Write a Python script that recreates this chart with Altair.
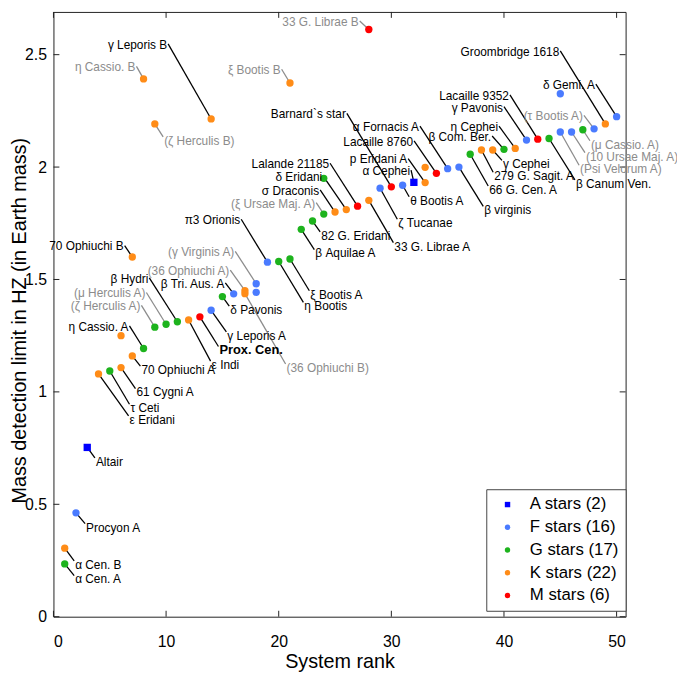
import altair as alt
import pandas as pd

# ---------------- data ----------------
ranks = [1, 1, 2, 3, 4, 5, 6, 6, 7, 7, 8, 8, 9, 9, 10, 11, 12, 13, 14, 14, 15, 16, 17, 17,
         18, 18, 19, 20, 21, 21, 22, 23, 24, 24, 25, 26, 27, 28, 28, 29, 30, 31, 32, 33, 33,
         34, 35, 36, 37, 38, 39, 40, 41, 42, 43, 44, 45, 45, 46, 47, 48, 49, 50]

masses = [0.235, 0.305, 0.462, 0.753, 1.080, 1.093, 1.108, 1.250, 1.160, 1.600, 1.193, 2.392,
          1.288, 2.192, 1.301, 1.312, 1.320, 1.334, 1.363, 2.214, 1.424, 1.436, 1.450, 1.437,
          1.481, 1.443, 1.577, 1.580, 1.591, 2.374, 1.723, 1.760, 1.791, 1.950, 1.800, 1.811,
          1.826, 1.852, 2.612, 1.906, 1.912, 1.919, 1.932, 1.931, 1.999, 1.972, 1.993, 2.000,
          2.057, 2.076, 2.076, 2.079, 2.083, 2.120, 2.124, 2.127, 2.156, 2.326, 2.156, 2.166,
          2.170, 2.192, 2.224]

types = ['G', 'K', 'F', 'A', 'K', 'G', 'K', 'K', 'K', 'K',
         'G', 'K', 'G', 'K', 'G', 'G', 'K', 'M', 'F', 'K',
         'G', 'F', 'K', 'K', 'F', 'F', 'F', 'G', 'G', 'K',
         'G', 'G', 'G', 'G', 'K', 'K', 'M', 'K', 'M', 'F',
         'M', 'F', 'A', 'K', 'K', 'M', 'F', 'F', 'G', 'K',
         'K', 'G', 'K', 'F', 'M', 'G', 'F', 'F', 'F', 'G',
         'F', 'K', 'F']

names = ["α Cen. A", "α Cen. B", "Procyon A", "Altair", "ε Eridani", "τ Ceti", "61 Cygni A", "",
         "70 Ophiuchi A", "70 Ophiuchi B", "η Cassio. A", "η Cassio. B", "(ζ Herculis A)",
         "(ζ Herculis B)", "(μ Herculis A)", "β Hydri", "ε Indi", "Prox. Cen.", "γ Leporis A",
         "γ Leporis B", "δ Pavonis", "β Tri. Aus. A", "(36 Ophiuchi A)", "(36 Ophiuchi B)",
         "(γ Virginis A)", "", "π3 Orionis", "η Bootis", "ξ Bootis A", "ξ Bootis B",
         "β Aquilae A", "82 G. Eridani", "(ξ Ursae Maj. A)", "", "σ Draconis", "δ Eridani",
         "Lalande 21185", "33 G. Librae A", "33 G. Librae B", "ζ Tucanae", "Barnard`s star",
         "θ Bootis A", "α Cephei", "p Eridani A", "", "Lacaille 8760", "α Fornacis A",
         "β virginis", "66 G. Cen. A", "279 G. Sagit. A", "γ Cephei", "β Com. Ber.", "η Cephei",
         "γ Pavonis", "Lacaille 9352", "β Canum Ven.", "(Psi Velorum A)", "",
         "(10 Ursae Maj. A)", "(μ Cassio. A)", "(τ Bootis A)", "Groombridge 1618", "δ Gemi. A"]

# label anchor (in rank / Earth-mass units) and which side the text sits on
label_x = [1.84, 1.84, 2.81, 3.68, 6.67, 6.75, 7.28, None, 7.72, 6.32, 6.75, 7.37, 7.81, 9.74,
           8.25, 8.51, 13.95, 14.65, 15.35, 10.18, 15.61, 15.26, 15.70, 20.61, 16.14, None,
           16.67, 22.19, 22.72, 20.26, 23.16, 23.68, 23.33, None, 23.68, 23.95, 24.56, 30.18,
           27.19, 30.53, 26.05, 31.58, 31.75, 31.49, None, 32.02, 32.54, 38.16, 38.60, 39.04,
           39.82, 38.95, 39.56, 40.00, 40.53, 46.30, 46.67, None, 47.19, 47.63, 47.10, 45.00,
           48.16]
label_y = [0.183, 0.248, 0.414, 0.706, 0.893, 0.945, 1.015, None, 1.115, 1.651, 1.294, 2.448,
           1.385, 2.134, 1.442, 1.507, 1.137, 1.202, 1.267, 2.548, 1.381, 1.485, 1.542, 1.124,
           1.625, None, 1.768, 1.398, 1.450, 2.435, 1.633, 1.712, 1.842, None, 1.899, 1.960,
           2.017, 1.664, 2.650, 1.768, 2.239, 1.868, 1.986, 2.038, None, 2.117, 2.182, 1.825,
           1.916, 1.977, 2.030, 2.138, 2.182, 2.269, 2.321, 1.943, 2.008, None, 2.064, 2.117,
           2.230, 2.517, 2.369]
label_align = ['left', 'left', 'left', 'left', 'left', 'left', 'left', '', 'left', 'right',
               'right', 'right', 'right', 'left', 'right', 'right', 'left', 'left', 'left', 'right',
               'left', 'right', 'right', 'left', 'right', '', 'right', 'left', 'left', 'right',
               'left', 'left', 'right', '', 'right', 'right', 'right', 'left', 'right', 'left',
               'right', 'left', 'right', 'right', '', 'right', 'right', 'left', 'left', 'left',
               'left', 'right', 'right', 'right', 'right', 'left', 'left', '', 'left', 'left',
               'right', 'right', 'right']

muted_labels = ["η Cassio. B", "ξ Bootis B", "33 G. Librae B"]
bold_labels = ["Prox. Cen."]

classes = ["A", "F", "G", "K", "M"]
class_colors = ["#0000ff", "#4a7bff", "#1db31d", "#ff8c17", "#ff0000"]
class_shapes = ["square", "circle", "circle", "circle", "circle"]

x_tick_values = [0, 10, 20, 30, 40, 50]
y_tick_values = [0, 0.5, 1, 1.5, 2, 2.5]

# ---------------- build table ----------------
counts = {c: types.count(c) for c in classes}
legend_names = [f"{c} stars ({counts[c]})" for c in classes]
cls_name = {c: n for c, n in zip(classes, legend_names)}

rows = []
for i in range(len(ranks)):
    nm = names[i]
    if nm.startswith("(") or nm in muted_labels:
        tone = "gray"
    elif nm in bold_labels:
        tone = "bold"
    else:
        tone = "black"
    rows.append(dict(rank=ranks[i], mass=masses[i], cls=cls_name[types[i]], name=nm,
                     lx=label_x[i], ly=label_y[i], side=label_align[i], tone=tone))
df = pd.DataFrame(rows)

FONT = "Liberation Sans"
W, H = 579, 612
FRAME = "#222222"
GRAY = "#8c8c8c"

x_scale = alt.Scale(domain=[0, 50.8], nice=False, zero=False)
y_scale = alt.Scale(domain=[0, 2.69], nice=False, zero=False)

x_axis = alt.Axis(values=x_tick_values, tickSize=0, domain=False, grid=False,
                  labelFontSize=16, labelPadding=17, labelFont=FONT, labelColor="black",
                  title="System rank", titleFont=FONT, titleFontSize=20,
                  titleFontWeight="normal", titleColor="black", titlePadding=2)
y_axis = alt.Axis(values=y_tick_values, format="~g", tickSize=0, domain=False, grid=False,
                  labelFontSize=16, labelPadding=7, labelFont=FONT, labelColor="black",
                  title="Mass detection limit in HZ (in Earth mass)", titleFont=FONT,
                  titleFontSize=20, titleFontWeight="normal", titleColor="black",
                  titleX=-34, titleY=312, titleBaseline="middle")

leg = alt.Legend(title=None, orient="none", legendX=438, legendY=483, fillColor="white",
                 strokeColor="#444444", padding=7, labelFontSize=17, labelFont=FONT,
                 labelColor="black", symbolSize=30, rowPadding=5, labelOffset=14,
                 symbolOffset=6, symbolStrokeWidth=0)

base = alt.Chart(df)
labelled = base.transform_filter("datum.name != ''")

X = lambda f: alt.X(f, scale=x_scale, axis=x_axis)
Y = lambda f: alt.Y(f, scale=y_scale, axis=y_axis)

layers = []

# inward ticks on all four sides
yt = alt.Chart(pd.DataFrame({"v": y_tick_values}))
xt = alt.Chart(pd.DataFrame({"v": x_tick_values}))
layers.append(yt.mark_rule(color=FRAME, strokeWidth=1).encode(
    y=Y("v:Q"), x=alt.value(0), x2=alt.value(6)))
layers.append(yt.mark_rule(color=FRAME, strokeWidth=1).encode(
    y=Y("v:Q"), x=alt.value(W), x2=alt.value(W - 6)))
layers.append(xt.mark_rule(color=FRAME, strokeWidth=1).encode(
    x=X("v:Q"), y=alt.value(H), y2=alt.value(H - 6)))
layers.append(xt.mark_rule(color=FRAME, strokeWidth=1).encode(
    x=X("v:Q"), y=alt.value(0), y2=alt.value(6)))

# leader lines
layers.append(labelled.transform_filter("datum.tone == 'gray'").mark_rule(
    color=GRAY, strokeWidth=1.3).encode(x=X("lx:Q"), y=Y("ly:Q"), x2="rank:Q", y2="mass:Q"))
layers.append(labelled.transform_filter("datum.tone != 'gray'").mark_rule(
    color="black", strokeWidth=1.3).encode(x=X("lx:Q"), y=Y("ly:Q"), x2="rank:Q", y2="mass:Q"))

# stars
layers.append(base.mark_point(filled=True, size=55, opacity=1).encode(
    x=X("rank:Q"), y=Y("mass:Q"),
    color=alt.Color("cls:N", scale=alt.Scale(domain=legend_names, range=class_colors), legend=leg),
    shape=alt.Shape("cls:N", scale=alt.Scale(domain=legend_names, range=class_shapes), legend=leg)))

# labels
for side in ["left", "right"]:
    for tone in ["black", "gray", "bold"]:
        color = GRAY if tone == "gray" else "black"
        weight = "bold" if tone == "bold" else "normal"
        size = 13 if tone == "bold" else 12
        dx = 1 if side == "left" else -1
        dy = 4 if side == "left" else 1
        layers.append(labelled.transform_filter(
            f"datum.side == '{side}' && datum.tone == '{tone}'").mark_text(
            align=side, baseline="middle", dx=dx, dy=dy, font=FONT, fontSize=size,
            fontWeight=weight, color=color).encode(x=X("lx:Q"), y=Y("ly:Q"), text="name:N"))

chart = alt.layer(*layers).properties(
    width=W, height=H,
    autosize=alt.AutoSizeParams(type="none"),
    padding={"left": 46, "top": 0, "right": 52, "bottom": 55},
).configure_view(stroke=FRAME, strokeWidth=1)

chart.save("out.html", embed_options={"renderer": "svg", "actions": False})
